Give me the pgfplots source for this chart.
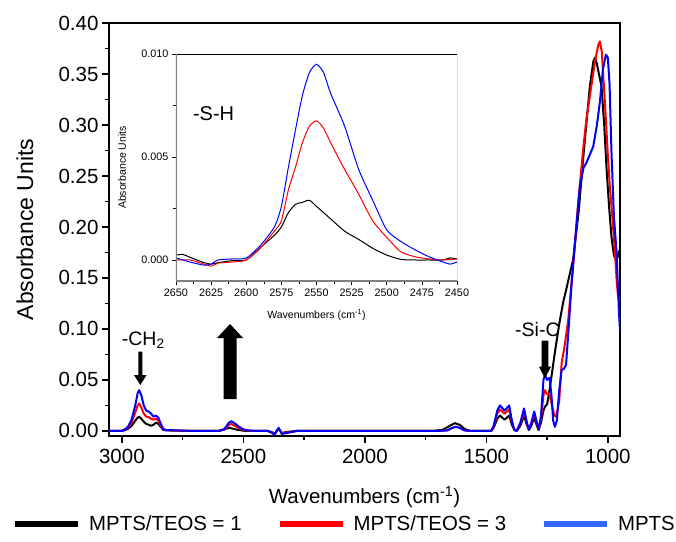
\documentclass[border=0pt]{standalone}
\usepackage{pgfplots}
\pgfplotsset{compat=1.18}
\usepackage{fontspec}
\setmainfont{Liberation Sans}
\definecolor{legblue}{HTML}{3366FF}
\newcommand{\mainfont}{\fontsize{20.5}{22}\selectfont}
\newcommand{\insfont}{\fontsize{10.8}{12}\selectfont}
\begin{document}
\begin{tikzpicture}
\begin{axis}[
  at={(0pt,0pt)}, anchor=south west,
  width=511pt, height=413pt, scale only axis,
  x dir=reverse,
  xmin=950, xmax=3053, ymin=-0.005, ymax=0.40,
  xtick={1000,1500,2000,2500,3000},
  minor xtick={1250,1750,2250,2750},
  ytick={0,0.05,...,0.401},
  minor ytick={0.025,0.075,...,0.4},
  tick pos=left, tick align=outside,
  major tick length=7pt, minor tick length=4pt,
  every tick/.style={black, line width=1.3pt},
  axis line style={line width=1.6pt},
  /pgf/number format/assume math mode=true,
  x tick label style={font=\mainfont, yshift=-3pt, /pgf/number format/1000 sep={}},
  y tick label style={font=\mainfont, /pgf/number format/.cd, fixed, fixed zerofill, precision=2},
  xlabel={Wavenumbers (cm\textsuperscript{-1})},
  ylabel={Absorbance Units},
  xlabel style={font=\fontsize{20.5}{22}\selectfont, at={(axis description cs:0.5,-0.1477)}, anchor=center},
  ylabel style={font=\fontsize{23}{25}\selectfont, at={(axis description cs:-0.1644,0.5)}, anchor=center},
  legend columns=3,
  legend image code/.code={\draw[#1] (0pt,0pt) -- (63pt,0pt);},
  legend style={draw=none, fill=none, inner sep=0pt, font=\fontsize{20.4}{22}\selectfont,
    at={(axis description cs:-0.1898,-0.21308)}, anchor=west,
    nodes={inner sep=0pt, anchor=west},
    /tikz/every odd column/.append style={column sep=8pt},
    /tikz/every even column/.append style={column sep=35pt}},
]
\addlegendimage{black, line width=6pt}
\addlegendentry{MPTS/TEOS = 1}
\addlegendimage{red, line width=6pt}
\addlegendentry{MPTS/TEOS = 3}
\addlegendimage{legblue, line width=6pt}
\addlegendentry{MPTS}
% black
\addplot[black, line width=2pt, line join=round, forget plot] coordinates {
(3053,0) (3000,0) (2990,0.0005) (2975,0.002) (2960,0.005) (2945,0.010) (2935,0.013) (2929,0.014)
(2920,0.012) (2910,0.009) (2900,0.007) (2890,0.006) (2880,0.005) (2870,0.006) (2860,0.008)
(2850,0.007) (2840,0.004) (2830,0.001) (2800,0.0003) (2700,0) (2600,0) (2580,0.0012) (2570,0.0023)
(2560,0.0028) (2555,0.0029) (2550,0.0026) (2540,0.0020) (2530,0.0014) (2520,0.0010) (2510,0.0006)
(2500,0.0002) (2480,0) (2400,0) (2380,-0.0015) (2372,-0.003) (2363,0) (2355,0.002) (2348,0)
(2342,-0.002) (2320,-0.001) (2300,-0.0005) (2280,0) (1720,0) (1680,0.001) (1650,0.005) (1630,0.0076)
(1610,0.006) (1590,0.002) (1570,0) (1480,0) (1470,0.003) (1455,0.012) (1444,0.015) (1425,0.011)
(1406,0.015) (1395,0.006) (1385,0.001) (1375,0) (1360,0.005) (1345,0.015) (1335,0.007) (1325,0.001)
(1315,0.005) (1303,0.013) (1292,0.005) (1285,0.001) (1275,0.008) (1265,0.020) (1258,0.024)
(1250,0.026) (1240,0.040) (1218,0.077) (1200,0.105) (1184,0.126) (1170,0.140) (1143,0.168)
(1120,0.215) (1102,0.266) (1085,0.310) (1074,0.338) (1060,0.362) (1053,0.366) (1045,0.360)
(1035,0.348) (1026,0.338) (1015,0.300) (1005,0.256) (995,0.220) (985,0.190) (975,0.172)
(967,0.168) (960,0.170) (955,0.175) (950,0.178)
};
% red
\addplot[red, line width=2pt, line join=round, forget plot] coordinates {
(3053,0) (3000,0) (2990,0.001) (2975,0.003) (2960,0.008) (2945,0.018) (2935,0.025) (2929,0.027)
(2920,0.023) (2910,0.017) (2900,0.014) (2890,0.0135) (2880,0.012) (2870,0.011) (2860,0.012)
(2850,0.010) (2840,0.005) (2830,0.0015) (2800,0.0005) (2700,0) (2600,0) (2580,0.0014) (2570,0.0034)
(2560,0.0057) (2550,0.0068) (2540,0.0057) (2530,0.0044) (2520,0.0032) (2510,0.0019) (2500,0.0011)
(2480,0.0002) (2450,0) (2400,0) (2380,-0.002) (2372,-0.0035) (2363,0) (2355,0.0025) (2348,0)
(2342,-0.0025) (2320,-0.0015) (2300,-0.001) (2280,0) (1700,0) (1660,0.0005) (1640,0.003)
(1625,0.004) (1610,0.003) (1590,0.0005) (1560,0) (1480,0) (1470,0.004) (1455,0.017) (1444,0.021)
(1425,0.017) (1406,0.021) (1395,0.009) (1385,0.001) (1375,0) (1360,0.007) (1345,0.020) (1335,0.009)
(1325,0.001) (1315,0.007) (1303,0.017) (1292,0.007) (1285,0.001) (1275,0.012) (1265,0.035)
(1259,0.040) (1250,0.036) (1240,0.036) (1230,0.025) (1220,0.015) (1212,0.014) (1200,0.030)
(1190,0.067) (1180,0.080) (1163,0.109) (1140,0.170) (1122,0.224) (1100,0.280) (1088,0.306)
(1070,0.335) (1053,0.362) (1040,0.378) (1033,0.382) (1025,0.372) (1012,0.322) (1000,0.270)
(992,0.240) (980,0.205) (971,0.175) (963,0.145) (958,0.132) (950,0.127)
};
% blue
\addplot[blue, line width=2pt, line join=round, forget plot] coordinates {
(3053,0) (3000,0) (2990,0.001) (2975,0.004) (2960,0.011) (2945,0.025) (2935,0.037) (2929,0.040)
(2920,0.035) (2910,0.025) (2900,0.020) (2890,0.019) (2880,0.017) (2870,0.014) (2860,0.015)
(2850,0.013) (2840,0.007) (2830,0.002) (2820,0.0005) (2800,0.001) (2780,0.0005) (2700,0)
(2620,0) (2600,0.0001) (2580,0.0016) (2570,0.0045) (2560,0.0080) (2550,0.0095) (2540,0.0081)
(2530,0.0065) (2520,0.0044) (2510,0.0029) (2500,0.0015) (2480,0.0005) (2450,0) (2400,0)
(2380,-0.002) (2372,-0.004) (2363,0) (2355,0.003) (2348,0) (2342,-0.003) (2320,-0.002)
(2300,-0.001) (2280,0) (1700,0) (1660,0.0005) (1640,0.003) (1625,0.004) (1610,0.003)
(1590,0.0005) (1560,0) (1480,0) (1470,0.005) (1455,0.020) (1444,0.025) (1425,0.020) (1406,0.025)
(1395,0.010) (1385,0.001) (1375,0) (1360,0.008) (1345,0.022) (1335,0.010) (1325,0.001)
(1315,0.008) (1303,0.019) (1292,0.008) (1285,0.001) (1275,0.015) (1265,0.050) (1259,0.055)
(1250,0.050) (1240,0.052) (1232,0.035) (1225,0.010) (1218,0.004) (1210,0.010) (1200,0.040)
(1190,0.060) (1180,0.061) (1172,0.065) (1160,0.105) (1150,0.142) (1130,0.200) (1115,0.240)
(1100,0.258) (1088,0.263) (1060,0.279) (1045,0.300) (1033,0.322) (1020,0.355) (1008,0.369)
(1000,0.366) (993,0.340) (985,0.273) (975,0.210) (964,0.175) (955,0.120) (950,0.098)
};
\end{axis}
% annotations (positions in pt relative to main axis lower left)
\fill[black] (114.5pt,37pt) -- (127.5pt,37pt) -- (127.5pt,98pt) -- (134pt,98pt) -- (121pt,112pt)
  -- (108pt,98pt) -- (114.5pt,98pt) -- cycle;
\fill[black] (29.3pt,84.3pt) -- (33.3pt,84.3pt) -- (33.3pt,61pt) -- (37.6pt,61pt) -- (31.3pt,51pt)
  -- (25pt,61pt) -- (29.3pt,61pt) -- cycle;
\fill[black] (432.6pt,95.3pt) -- (439.4pt,95.3pt) -- (439.4pt,69.3pt) -- (442pt,69.3pt) -- (436pt,57.7pt)
  -- (430pt,69.3pt) -- (432.6pt,69.3pt) -- cycle;
\node[anchor=base west, inner sep=0pt, font=\fontsize{19.5}{22}\selectfont] at (12.7pt,91pt) {-CH\textsubscript{2}};
\node[anchor=base west, inner sep=0pt, font=\fontsize{19.5}{22}\selectfont] at (406pt,99.3pt) {-Si-C};
% inset
\begin{axis}[
  at={(67pt,155pt)}, anchor=south west,
  width=281pt, height=227pt, scale only axis,
  x dir=reverse,
  xmin=2450, xmax=2650, ymin=-0.00102, ymax=0.010,
  xtick={2450,2475,...,2650},
  minor xtick={2462.5,2487.5,...,2650},
  ytick={0,0.005,0.010},
  minor ytick={0.0025,0.0075},
  tick pos=left, tick align=outside,
  major tick length=4pt, minor tick length=2.5pt,
  every tick/.style={black, line width=0.6pt},
  axis line style={draw=none},
  axis background/.style={fill=white},
  scaled y ticks=false,
  /pgf/number format/assume math mode=true,
  x tick label style={font=\insfont, /pgf/number format/1000 sep={}},
  y tick label style={font=\insfont, /pgf/number format/.cd, fixed, fixed zerofill, precision=3},
  xlabel={Wavenumbers (cm\textsuperscript{-1})},
  ylabel={Absorbance Units},
  label style={font=\fontsize{10.5}{12}\selectfont},
  xlabel style={at={(axis description cs:0.5,-0.1498)}, anchor=center},
  ylabel style={at={(axis description cs:-0.192,0.5)}, anchor=center},
]
\addplot[black, line width=1pt, smooth, tension=0.4] coordinates {
(2650,0.00024) (2645,0.00027) (2640,0.00013) (2630,-0.00013) (2625,-0.0002) (2620,-0.00013)
(2610,-0.00003) (2600,0) (2590,0.0006) (2580,0.0012) (2575,0.0016) (2570,0.0023) (2565,0.0027)
(2560,0.0028) (2555,0.0029) (2550,0.0026) (2540,0.0020) (2530,0.0014) (2520,0.0010) (2510,0.00057)
(2500,0.00024) (2490,0.00003) (2480,0) (2470,0) (2460,0) (2455,0.0001) (2450,0.00005)
};
\addplot[red, line width=1pt, smooth, tension=0.4] coordinates {
(2650,0) (2640,0) (2630,-0.0002) (2625,-0.0003) (2620,-0.00015) (2610,-0.0001) (2600,0)
(2590,0.00057) (2580,0.0014) (2575,0.0019) (2570,0.0034) (2565,0.0045) (2560,0.0057) (2555,0.0065)
(2550,0.00675) (2545,0.0064) (2540,0.0057) (2530,0.0044) (2520,0.0032) (2510,0.0019) (2500,0.0011)
(2490,0.0004) (2480,0.00016) (2470,0.00005) (2460,0) (2450,0.00005)
};
\addplot[blue, line width=1pt, smooth, tension=0.4] coordinates {
(2650,0.0001) (2640,-0.0001) (2630,-0.00025) (2625,-0.0002) (2620,0) (2610,0.00005) (2600,0.0001)
(2590,0.0007) (2580,0.0016) (2575,0.0026) (2570,0.0045) (2565,0.0063) (2560,0.0080) (2555,0.0091)
(2550,0.0095) (2545,0.0091) (2540,0.0081) (2530,0.0065) (2520,0.0044) (2510,0.0029) (2500,0.00146)
(2490,0.0009) (2480,0.0005) (2470,0.00016) (2460,-0.0001) (2455,-0.0002) (2450,-0.0001)
};
\draw[black, line width=0.8pt] (rel axis cs:0,1) -- (rel axis cs:1,1) -- (rel axis cs:1,0);
\draw[gray, line width=1.5pt] (rel axis cs:0,1) -- (rel axis cs:0,0) -- (rel axis cs:1,0);
\node[anchor=base west, inner sep=0pt, font=\fontsize{20}{22}\selectfont] at (rel axis cs:0.0598,0.7063) {-S-H};
\end{axis}
\pgfresetboundingbox
\path[use as bounding box] (-109pt,-105pt) rectangle (567pt,436pt);
\end{tikzpicture}
\end{document}
